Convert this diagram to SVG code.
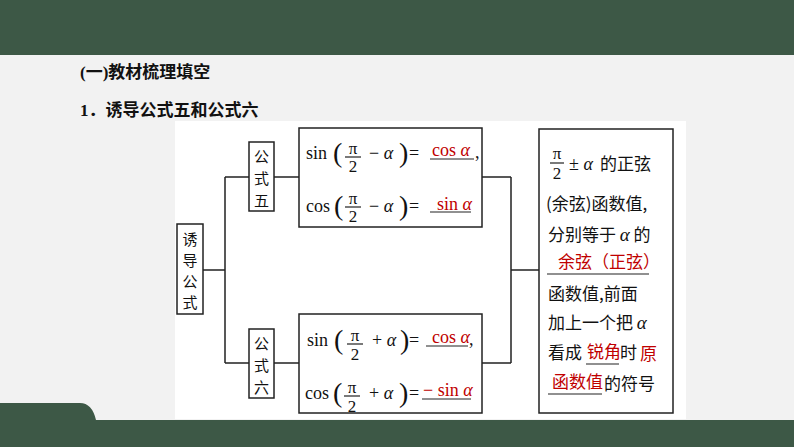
<svg xmlns="http://www.w3.org/2000/svg" width="794" height="447" viewBox="0 0 794 447">
<style>
.b{fill:none;stroke:#222;stroke-width:1.5}
.cn{font-family:"Noto Sans CJK SC",sans-serif;font-size:17px;fill:#111}
.rc{font-family:"Noto Sans CJK SC",sans-serif;font-size:15px;fill:#111;text-anchor:middle}
.m{font-family:"Liberation Serif",serif;font-size:18px;fill:#111}
.f{font-family:"Liberation Serif",serif;font-size:17px;fill:#111;text-anchor:middle}
.r{fill:#c00000}
.i{font-style:italic}
.p{font-family:"Liberation Serif",serif;font-size:28px;fill:#111}
.u{stroke:#222;stroke-width:1.2}
.h{font-family:"Noto Sans CJK SC",sans-serif;font-size:17px;font-weight:bold;fill:#111}
</style>
<rect width="794" height="447" fill="#f2f2f2"/>
<rect width="794" height="55" fill="#3d5846"/>
<path d="M0 447V403H80Q92 403 96 420H794V447Z" fill="#3d5846"/>
<text class="h" x="80" y="78"><tspan font-family="Liberation Serif">(</tspan>一<tspan font-family="Liberation Serif">)</tspan>教材梳理填空</text>
<text class="h" x="80" y="116"><tspan font-family="Liberation Serif">1</tspan>．诱导公式五和公式六</text>
<rect x="175" y="121" width="511" height="298" fill="#fff"/>
<g id="connectors" class="b">
<path d="M203 270H225M225 177V363M225 177H249M225 363H249M274 177H299M274 363H299M482 177H511M482 363H511M511 177V363M511 270H539"/>
</g>
<g id="root"><rect class="b" x="177" y="224" width="26" height="90"/>
<text class="rc" x="190" y="245">诱</text><text class="rc" x="190" y="266">导</text><text class="rc" x="190" y="287">公</text><text class="rc" x="190" y="308">式</text></g>
<g id="f5"><rect class="b" x="249" y="142" width="25" height="69"/>
<text class="rc" x="261.5" y="162">公</text><text class="rc" x="261.5" y="184">式</text><text class="rc" x="261.5" y="206">五</text></g>
<g id="f6"><rect class="b" x="249" y="329" width="25" height="69"/>
<text class="rc" x="261.5" y="349">公</text><text class="rc" x="261.5" y="371">式</text><text class="rc" x="261.5" y="393">六</text></g>
<g id="box5"><rect class="b" x="299" y="128" width="183" height="99"/>
<text class="m" x="306" y="159">sin</text><text class="p" x="333" y="162">(</text>
<text class="f" x="353" y="154">π</text><line class="u" x1="345" y1="157" x2="361" y2="157"/><text class="f" x="353" y="172">2</text>
<text class="m" x="369" y="159">− <tspan class="i">α</tspan></text><text class="p" x="399" y="162">)</text><text class="m" x="409" y="159">=</text>
<text class="m r" x="432" y="156" font-size="15">cos <tspan class="i">α</tspan></text><line class="u" x1="430" y1="159" x2="474" y2="159"/><text class="m" x="475" y="158">,</text>
<text class="m" x="306" y="212">cos</text><text class="p" x="334" y="215">(</text>
<text class="f" x="353" y="204">π</text><line class="u" x1="345" y1="207" x2="361" y2="207"/><text class="f" x="353" y="222">2</text>
<text class="m" x="369" y="212">− <tspan class="i">α</tspan></text><text class="p" x="399" y="215">)</text><text class="m" x="409" y="212" fill="#aaa">=</text>
<text class="m r" x="437" y="210" font-size="15">sin <tspan class="i">α</tspan></text><line class="u" x1="430" y1="212" x2="471" y2="212"/>
</g>
<g id="box6"><rect class="b" x="299" y="314" width="183" height="99"/>
<text class="m" x="307" y="346">sin</text><text class="p" x="334" y="349">(</text>
<text class="f" x="355" y="341">π</text><line class="u" x1="347" y1="344" x2="363" y2="344"/><text class="f" x="355" y="360">2</text>
<text class="m" x="372" y="346">+ <tspan class="i">α</tspan></text><text class="p" x="400" y="349">)</text><text class="m" x="409" y="346">=</text>
<text class="m r" x="432" y="343" font-size="15">cos <tspan class="i">α</tspan></text><line class="u" x1="426" y1="346" x2="468" y2="346"/><text class="m" x="469" y="345">,</text>
<text class="m" x="305" y="399">cos</text><text class="p" x="333" y="402">(</text>
<text class="f" x="352" y="393">π</text><line class="u" x1="344" y1="396" x2="360" y2="396"/><text class="f" x="352" y="412">2</text>
<text class="m" x="369" y="399">+ <tspan class="i">α</tspan></text><text class="p" x="399" y="402">)</text><text class="m" x="409" y="399">=</text>
<text class="m r" x="423" y="396" font-size="15">− sin <tspan class="i">α</tspan></text><line class="u" x1="422" y1="399" x2="471" y2="399"/>
</g>
<g id="note"><rect class="b" x="539" y="129" width="134" height="284"/>
<text class="f" x="557" y="159">π</text><line class="u" x1="550" y1="163" x2="564" y2="163"/><text class="f" x="557" y="179">2</text>
<text class="m" x="569" y="170">± <tspan class="i">α</tspan></text><text class="cn" x="600" y="170">的正弦</text>
<text class="cn" x="546" y="210">(余弦)函数值,</text>
<text class="cn" x="548" y="241">分别等于 <tspan font-family="Liberation Serif" font-style="italic" font-size="19">α</tspan> 的</text>
<text class="cn r" x="558" y="268" font-size="13">余弦（正弦）</text><line class="u" x1="547" y1="274" x2="649" y2="274"/>
<text class="cn" x="548" y="300">函数值,前面</text>
<text class="cn" x="548" y="329">加上一个把 <tspan font-family="Liberation Serif" font-style="italic" font-size="19">α</tspan></text>
<text class="cn" x="548" y="359">看成</text><text class="cn r" x="587" y="358" font-size="14">锐角</text><line class="u" x1="586" y1="364" x2="619" y2="364"/>
<text class="cn" x="620" y="359">时</text><text class="cn r" x="640" y="360" font-size="14">原</text>
<text class="cn r" x="552" y="388" font-size="14">函数值</text><line class="u" x1="548" y1="394" x2="602" y2="394"/><text class="cn" x="604" y="390">的符号</text>
</g>
</svg>
